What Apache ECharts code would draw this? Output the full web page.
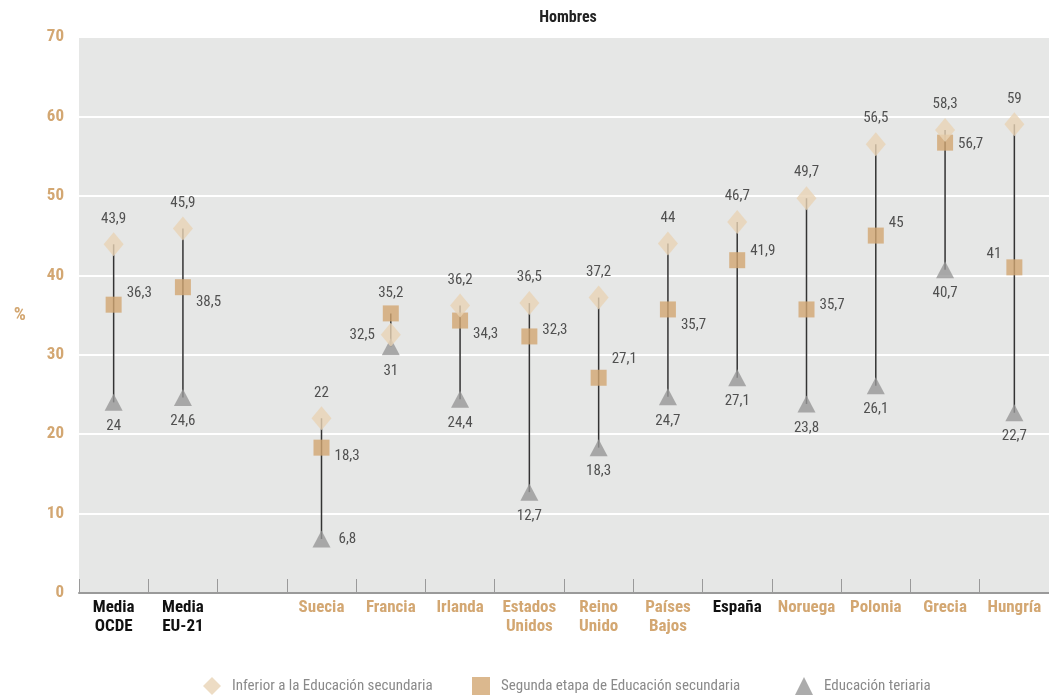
<!DOCTYPE html>
<html><head><meta charset="utf-8">
<script src="https://cdn.jsdelivr.net/npm/echarts@6/dist/echarts.min.js"></script>
<style>html,body{margin:0;padding:0;background:#fff}#c{width:1049px;height:697px}</style>
</head><body><div id="c"></div>
<script>
const categories = ['Media\nOCDE','Media\nEU-21','','Suecia','Francia','Irlanda','Estados\nUnidos','Reino\nUnido','Países\nBajos','España','Noruega','Polonia','Grecia','Hungría'];
const inferior = [43.9,45.9,null,22,32.5,36.2,36.5,37.2,44,46.7,49.7,56.5,58.3,59];
const segunda  = [36.3,38.5,null,18.3,35.2,34.3,32.3,27.1,35.7,41.9,35.7,45,56.7,41];
const terciaria= [24,24.6,null,6.8,31,24.4,12.7,18.3,24.7,27.1,23.8,26.1,40.7,22.7];
const seriesNames = ['Inferior a la Educación secundaria','Segunda etapa de Educación secundaria','Educación teriaria'];
const yTicks = [0,10,20,30,40,50,60,70];

const blackCats = ['Media\nOCDE','Media\nEU-21','España'];
const tan = '#d3a772';
const fontFam = '"Roboto Condensed","Liberation Sans Narrow",Roboto,sans-serif';
const fmt = v => String(v).replace('.', ',');

// label placement overrides (styling only)
const infPos = {4:'left'};
const segPos = {4:'top', 13:'left'};
const terPos = {3:'right'};
const segDy = {0:-11, 1:15, 3:9, 5:14, 6:-6, 7:-18, 8:16, 9:-9, 10:-4, 11:-12, 12:2, 13:-13};

function mk(values, posMap, defPos, dyMap) {
  return values.map((v,i) => {
    if (v === null) return null;
    const p = posMap[i] || defPos;
    const dy = (dyMap && dyMap[i]) || 0;
    const lab = {position:p};
    if (p === 'right' || p === 'left') lab.offset = [0, dy];
    return {value:[i, v], label:lab};
  });
}

const ranges = categories.map((c,i) => {
  const vals = [inferior[i], segunda[i], terciaria[i]].filter(v => v !== null);
  if (!vals.length) return null;
  return [i, Math.min(...vals), Math.max(...vals)];
}).filter(Boolean);

const chart = echarts.init(document.getElementById('c'), null, {renderer:'canvas'});
const labelStyle = {show:true, color:'#2b2b2b', fontSize:15, fontFamily:fontFam, distance:10, formatter: p => fmt(p.value[1])};
const legendBase = {
  bottom:2, padding:0, itemWidth:18, itemHeight:18,
  textStyle:{color:'#8a8a8a', fontSize:15, fontFamily:fontFam, padding:[0,0,0,6]}
};
chart.setOption({
  animation:false,
  title:{text:'Hombres', left:563, top:5, textAlign:'center', textStyle:{fontSize:16, fontWeight:'bold', color:'#222', fontFamily:fontFam}},
  grid:{left:79, top:37, width:977, bottom:104, backgroundColor:'#e6e7e6', show:true, borderWidth:0},
  legend:[
    Object.assign({}, legendBase, {left:203, data:[{name:seriesNames[0], icon:'diamond'}]}),
    Object.assign({}, legendBase, {left:472, data:[{name:seriesNames[1], icon:'rect'}]}),
    Object.assign({}, legendBase, {left:795, data:[{name:seriesNames[2], icon:'triangle'}]})
  ],
  xAxis:{
    type:'category', data:categories, boundaryGap:true,
    axisLine:{lineStyle:{color:'#9a9a9a', width:2}},
    axisTick:{show:true, inside:true, length:14, lineStyle:{color:'#9a9a9a', width:1}},
    axisLabel:{interval:0, margin:5, fontSize:17, fontWeight:'bold', fontFamily:fontFam, lineHeight:19,
      color: (v) => blackCats.includes(v) ? '#111' : tan},
    splitLine:{show:false}
  },
  yAxis:{
    type:'value', min:0, max:70, interval:10,
    name:'%', nameLocation:'middle', nameGap:53, nameRotate:0,
    nameTextStyle:{color:tan, fontSize:19, fontWeight:'bold', fontFamily:fontFam, padding:[4,0,0,0]},
    axisLine:{show:false}, axisTick:{show:false},
    axisLabel:{color:tan, fontSize:17, fontWeight:'bold', fontFamily:fontFam, margin:15, formatter: v => yTicks.includes(v) ? String(v) : ''},
    splitLine:{lineStyle:{color:'#ffffff', width:2}}
  },
  series:[
    {
      type:'custom', name:'range', silent:true, z:1,
      renderItem:(params, api) => {
        const a = api.coord([api.value(0), api.value(1)]);
        const b = api.coord([api.value(0), api.value(2)]);
        return {type:'line', shape:{x1:a[0], y1:a[1], x2:b[0], y2:b[1]}, style:{stroke:'#333333', lineWidth:1.5}};
      },
      encode:{x:0, y:[1,2]},
      data:ranges
    },
    {
      type:'scatter', name:seriesNames[2], symbol:'triangle', symbolSize:[18,17], z:3,
      itemStyle:{color:'#979797'},
      label:Object.assign({}, labelStyle, {distance:8}),
      data:mk(terciaria, terPos, 'bottom')
    },
    {
      type:'scatter', name:seriesNames[1], symbol:'rect', symbolSize:16, z:4,
      itemStyle:{color:'#d2a672'},
      label:Object.assign({}, labelStyle, {distance:5}),
      data:mk(segunda, segPos, 'right', segDy)
    },
    {
      type:'scatter', name:seriesNames[0], symbol:'diamond', symbolSize:[20,24], z:5,
      itemStyle:{color:'#e8d3b5'},
      label:Object.assign({}, labelStyle, {distance:6}),
      data:mk(inferior, infPos, 'top')
    }
  ]
});
</script>
</body></html>
